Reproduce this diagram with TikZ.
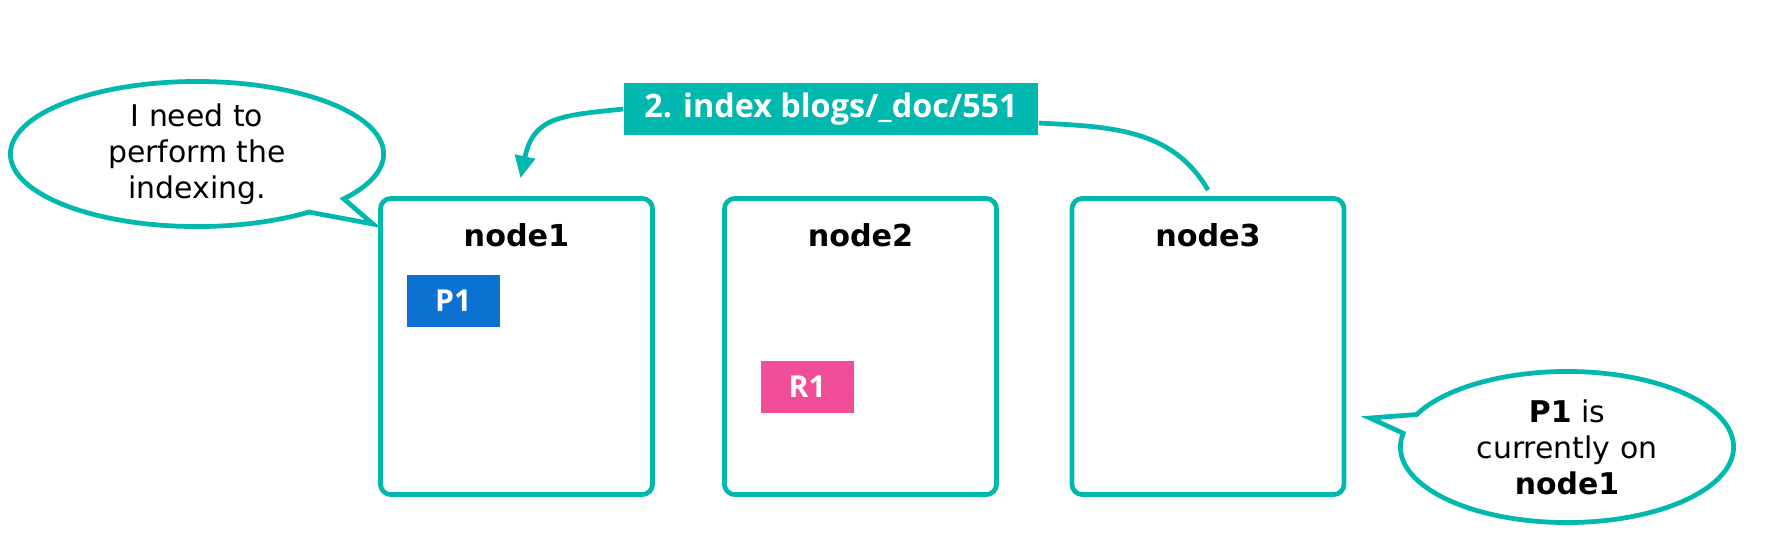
\documentclass[tikz,border=0pt]{standalone}
\usepackage{fontspec}
\setmainfont{DejaVu Sans}
\newfontfamily\tagfont{Open Sans}
\usetikzlibrary{positioning,shapes.callouts,arrows.meta}
\definecolor{esteal}{HTML}{00B8AE}
\definecolor{esblue}{HTML}{0B72D2}
\definecolor{espink}{HTML}{F04E98}
\begin{document}
\begin{tikzpicture}[x=0.01cm, y=-0.01cm,
    srvbox/.style={draw=esteal, line width=1.35pt, rounded corners=3pt, minimum width=2.72cm, minimum height=2.96cm, inner sep=0pt},
    srvtitle/.style={font=\fontsize{8.6}{10}\selectfont\bfseries},
    shard/.style={text=white, font=\tagfont\fontsize{8.6}{10}\selectfont\bfseries, minimum width=0.93cm, minimum height=0.52cm, inner sep=0pt},
    bubble/.style={ellipse callout, draw=esteal, line width=1.35pt, align=center, inner sep=0pt, font=\fontsize{8.5}{10.2}\selectfont},
    conn/.style={esteal, line width=1.35pt}]
    \useasboundingbox (0,0) rectangle (1775,535);

    % Servers
    \node[srvbox] (node1) at (516.5,346.5) {};
    \node[srvbox] (node2) at (860.5,346.5) {};
    \node[srvbox] (node3) at (1208,346.5) {};
    \node[srvtitle] (title1) at ([yshift=-0.39cm]node1.north) {node1};
    \node[srvtitle] (title2) at ([yshift=-0.39cm]node2.north) {node2};
    \node[srvtitle] (title3) at ([yshift=-0.39cm]node3.north) {node3};

    % Shards
    \node[shard, fill=esblue, below right=0.78cm and 0.28cm of node1.north west] (p1) {P1};
    \node[shard, fill=espink, below right=1.64cm and 0.38cm of node2.north west] (r1) {R1};

    % Request
    \node[fill=esteal, text=white, font=\tagfont\fontsize{9.2}{11}\selectfont\bfseries, minimum width=4.14cm, minimum height=0.52cm, inner sep=0pt] (req) at (831,109) {2. index blogs/\_doc/551};
    \coordinate (arrA) at ([xshift=0.04cm, yshift=0.18cm]node1.north);
    \coordinate (endB) at ([yshift=0.06cm]node3.north);
    \draw[conn, -{Triangle[length=0.22cm, width=0.2cm]}] (req.west) to[out=186, in=78, looseness=1.3] (arrA);
    \draw[conn] ([yshift=-0.14cm]req.east) to[out=-3, in=120] (endB);

    % Speech bubbles
    \coordinate (tipA) at (373,224);
    \coordinate (tipB) at (1370,418);
    \node[bubble, minimum width=3.73cm, minimum height=1.45cm, callout absolute pointer={(tipA)}] (say1) at (197,154) {I need to\\perform the\\indexing.};
    \node[bubble, minimum width=3.33cm, minimum height=1.51cm, callout absolute pointer={(tipB)}] (say2) at (1567,447) {\textbf{P1} is\\currently on\\\textbf{node1}};
\end{tikzpicture}
\end{document}
